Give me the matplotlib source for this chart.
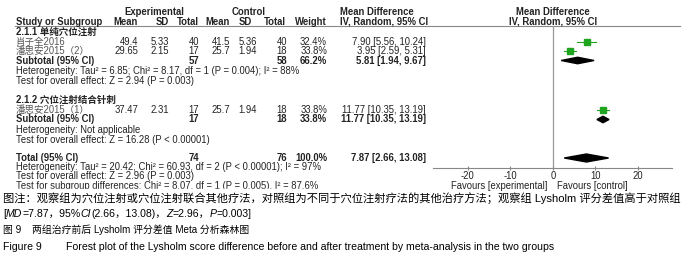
import numpy as np
import matplotlib
matplotlib.use('Agg')
import matplotlib.pyplot as plt
from matplotlib.patches import Polygon, Rectangle

plt.rcParams['font.family'] = ['Liberation Sans', 'Noto Sans CJK SC']

# ---- data ----
studies = ['肖子全2016', '潘思安2015（2）', '潘思安2015（1）']
exp_mean = [49.4, 29.65, 37.47]
exp_sd = [5.33, 2.15, 2.31]
exp_n = [40, 17, 17]
ctl_mean = [41.5, 25.7, 25.7]
ctl_sd = [5.36, 1.94, 1.94]
ctl_n = [40, 18, 18]
weight = [32.4, 33.8, 33.8]
md = [7.90, 3.95, 11.77]
md_lo = [5.56, 2.59, 10.35]
md_hi = [10.24, 5.31, 13.19]

sub_names = ['2.1.1 单纯穴位注射', '2.1.2 穴位注射结合针刺']
sub_exp_n = [57, 17]
sub_ctl_n = [58, 18]
sub_weight = [66.2, 33.8]
sub_md = [5.81, 11.77]
sub_lo = [1.94, 10.35]
sub_hi = [9.67, 13.19]
sub_het = ['Heterogeneity: Tau² = 6.85; Chi² = 8.17, df = 1 (P = 0.004); I² = 88%',
           'Heterogeneity: Not applicable']
sub_test = ['Test for overall effect: Z = 2.94 (P = 0.003)',
            'Test for overall effect: Z = 16.28 (P < 0.00001)']

tot_exp_n, tot_ctl_n = 74, 76
tot_md, tot_lo, tot_hi = 7.87, 2.66, 13.08
tot_het = 'Heterogeneity: Tau² = 20.42; Chi² = 60.93, df = 2 (P < 0.00001); I² = 97%'
tot_test = 'Test for overall effect: Z = 2.96 (P = 0.003)'
subgroup_test = 'Test for subgroup differences: Chi² = 8.07, df = 1 (P = 0.005), I² = 87.6%'

xticks = [-20, -10, 0, 10, 20]

# ---- layout (pixels) ----
W, H = 700, 269
fig = plt.figure(figsize=(7, 2.69), dpi=100)
tx = fig.add_axes([0, 0, 1, 1])
tx.set_xlim(0, W)
tx.set_ylim(H, 0)
tx.axis('off')
renderer = fig.canvas.get_renderer()

fs = 6.85
col = '#222222'
study_rows = [[42, 51], [110]]
sub_rows = [60.5, 119.5]
het_rows = [71, 130]
test_rows = [81, 140]
title_rows = [32, 100]

def t(x, y, s, ha='left', bold=False, size=fs, **kw):
    return tx.text(x, y, s, ha=ha, va='center', fontsize=size, color=kw.pop('color', col),
                   fontweight='bold' if bold else 'normal', **kw)

def pieces(x, y, parts, size):
    # text made of plain and italic runs, laid out one after another
    for s, style in parts:
        tt = t(x, y, s, size=size, fontstyle=style, color='black', zorder=6)
        x += tt.get_window_extent(renderer).width

# headers
t(154, 12, 'Experimental', ha='center', bold=True)
t(249, 12, 'Control', ha='center', bold=True)
t(340, 12, 'Mean Difference', bold=True)
t(553, 12, 'Mean Difference', ha='center', bold=True)
t(16, 22, 'Study or Subgroup', bold=True)
t(138, 22, 'Mean', ha='right', bold=True)
t(169, 22, 'SD', ha='right', bold=True)
t(199, 22, 'Total', ha='right', bold=True)
t(230, 22, 'Mean', ha='right', bold=True)
t(252, 22, 'SD', ha='right', bold=True)
t(286, 22, 'Total', ha='right', bold=True)
t(327, 22, 'Weight', ha='right', bold=True)
t(340, 22, 'IV, Random, 95% CI', bold=True)
t(553, 22, 'IV, Random, 95% CI', ha='center', bold=True)
tx.plot([15, 680], [26, 26], color='#888888', lw=0.8)

k = 0
for g in range(2):
    t(16, title_rows[g], sub_names[g], bold=True)
    for y in study_rows[g]:
        t(16, y, studies[k], color='#555555')
        t(138, y, f'{exp_mean[k]:g}', ha='right')
        t(169, y, f'{exp_sd[k]:.2f}', ha='right')
        t(199, y, f'{exp_n[k]}', ha='right')
        t(230, y, f'{ctl_mean[k]:g}', ha='right')
        t(257, y, f'{ctl_sd[k]:.2f}', ha='right')
        t(287, y, f'{ctl_n[k]}', ha='right')
        t(327, y, f'{weight[k]:.1f}%', ha='right')
        t(426, y, f'{md[k]:.2f} [{md_lo[k]:.2f}, {md_hi[k]:.2f}]', ha='right')
        k += 1
    y = sub_rows[g]
    t(16, y, 'Subtotal (95% CI)', bold=True)
    t(199, y, f'{sub_exp_n[g]}', ha='right', bold=True)
    t(287, y, f'{sub_ctl_n[g]}', ha='right', bold=True)
    t(327, y, f'{sub_weight[g]:.1f}%', ha='right', bold=True)
    t(426, y, f'{sub_md[g]:.2f} [{sub_lo[g]:.2f}, {sub_hi[g]:.2f}]', ha='right', bold=True)
    t(16, het_rows[g], sub_het[g])
    t(16, test_rows[g], sub_test[g])

t(16, 158, 'Total (95% CI)', bold=True)
t(199, 158, f'{tot_exp_n}', ha='right', bold=True)
t(287, 158, f'{tot_ctl_n}', ha='right', bold=True)
t(327, 158, '100.0%', ha='right', bold=True)
t(426, 158, f'{tot_md:.2f} [{tot_lo:.2f}, {tot_hi:.2f}]', ha='right', bold=True)
t(16, 167, tot_het)
t(16, 176, tot_test)
t(16, 186, subgroup_test)
# the original picture is cut just below this line
tx.add_patch(Rectangle((0, 188.5), 430, H, color='white', zorder=5))

t(547, 186, 'Favours [experimental]', ha='right', zorder=6)
t(557, 186, 'Favours [control]', zorder=6)

# captions
t(3, 198, '图注：观察组为穴位注射或穴位注射联合其他疗法，对照组为不同于穴位注射疗法的其他治疗方法；观察组 Lysholm 评分差值高于对照组',
  size=8.1, color='black', zorder=6)
pieces(3, 214, [('[', 'normal'), ('MD', 'italic'), ('=7.87，95%', 'normal'), ('CI', 'italic'),
                ('(2.66，13.08)，', 'normal'), ('Z', 'italic'), ('=2.96，', 'normal'),
                ('P', 'italic'), ('=0.003]', 'normal')], 7.6)
t(3, 230, '图 9', size=7.1, color='black', zorder=6)
t(32, 230, '两组治疗前后 Lysholm 评分差值 Meta 分析森林图', size=7.1, color='black', zorder=6)
t(3, 247, 'Figure 9', size=7.6, color='black', zorder=6)
t(66, 247, 'Forest plot of the Lysholm score difference before and after treatment by meta-analysis in the two groups',
  size=7.6, color='black', zorder=6)

# ---- forest panel ----
top, bot, left, right = 26, 168, 433, 672
ax = fig.add_axes([left / W, 1 - bot / H, (right - left) / W, (bot - top) / H])
ax.set_xlim(-28.2, 28)
ax.set_ylim(bot, top)
ax.patch.set_alpha(0)
for s in ['top', 'left', 'right']:
    ax.spines[s].set_visible(False)
ax.spines['bottom'].set_color('#888888')
ax.spines['bottom'].set_linewidth(0.8)
ax.set_yticks([])
ax.set_xticks(xticks)
ax.set_xticklabels([str(v) for v in xticks])
ax.tick_params(axis='x', direction='inout', length=3, width=0.8, color='#888888',
               labelsize=fs, labelcolor=col, pad=0.5)
ax.axvline(0, color='#999999', lw=0.9, zorder=1)

green = '#1fa41f'
ys = [y for rows in study_rows for y in rows]
for i in range(3):
    ax.plot([md_lo[i], md_hi[i]], [ys[i], ys[i]], color=green, lw=0.8, zorder=2)
    ax.plot(md[i], ys[i], marker='s', color=green, markersize=4.2, zorder=3)

def diamond(c, lo, hi, y, h):
    ax.add_patch(Polygon([[lo, y], [c, y - h / 2], [hi, y], [c, y + h / 2]],
                         closed=True, color='black', zorder=3))

for g in range(2):
    diamond(sub_md[g], sub_lo[g], sub_hi[g], sub_rows[g], 6.5)
diamond(tot_md, tot_lo, tot_hi, 158, 8)

fig.savefig('out.png', dpi=100)
